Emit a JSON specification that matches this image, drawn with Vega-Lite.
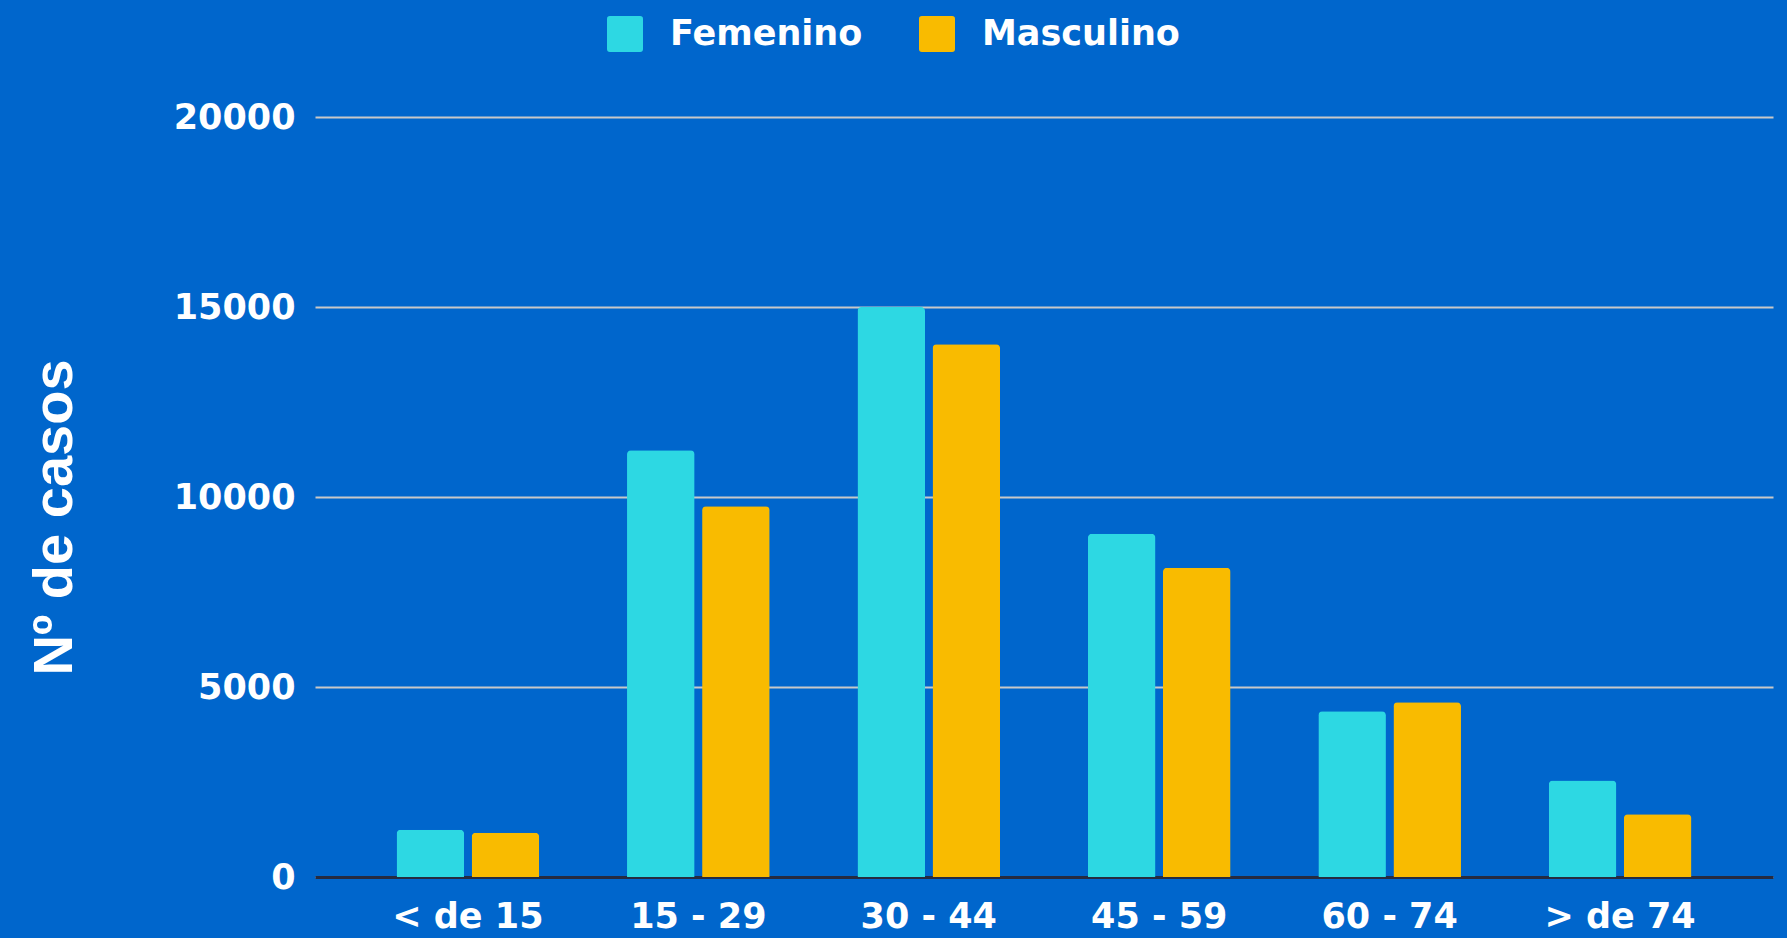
{
  "$schema": "https://vega.github.io/schema/vega-lite/v6.json",
  "autosize": {"type": "none"},
  "padding": {"left": 315, "top": 117, "right": 14, "bottom": 61},
  "width": 1458,
  "height": 760,
  "background": "#0066cc",
  "config": {
    "view": {"stroke": null},
    "font": "DejaVu Sans"
  },
  "data": {
    "values": [
      {"edad": "< de 15", "sexo": "Femenino", "casos": 1245},
      {"edad": "< de 15", "sexo": "Masculino", "casos": 1165},
      {"edad": "15 - 29", "sexo": "Femenino", "casos": 11230},
      {"edad": "15 - 29", "sexo": "Masculino", "casos": 9755},
      {"edad": "30 - 44", "sexo": "Femenino", "casos": 15000},
      {"edad": "30 - 44", "sexo": "Masculino", "casos": 14020},
      {"edad": "45 - 59", "sexo": "Femenino", "casos": 9035},
      {"edad": "45 - 59", "sexo": "Masculino", "casos": 8135},
      {"edad": "60 - 74", "sexo": "Femenino", "casos": 4360},
      {"edad": "60 - 74", "sexo": "Masculino", "casos": 4600},
      {"edad": "> de 74", "sexo": "Femenino", "casos": 2540},
      {"edad": "> de 74", "sexo": "Masculino", "casos": 1650}
    ]
  },
  "mark": {"type": "bar", "cornerRadiusTopLeft": 4, "cornerRadiusTopRight": 4},
  "encoding": {
    "x": {
      "field": "edad",
      "type": "nominal",
      "sort": ["< de 15", "15 - 29", "30 - 44", "45 - 59", "60 - 74", "> de 74"],
      "scale": {"paddingInner": 0.381, "paddingOuter": 0.354},
      "axis": {
        "title": null,
        "labelAngle": 0,
        "labelFont": "DejaVu Sans",
        "labelFontWeight": "bold",
        "labelFontSize": 35,
        "labelColor": "#ffffff",
        "labelPadding": 22,
        "ticks": false,
        "domain": true,
        "domainColor": "#262b40",
        "domainWidth": 3,
        "grid": false
      }
    },
    "xOffset": {
      "field": "sexo",
      "type": "nominal",
      "scale": {"paddingInner": 0.1, "paddingOuter": 0}
    },
    "y": {
      "field": "casos",
      "type": "quantitative",
      "scale": {"domain": [0, 20000], "nice": false},
      "axis": {
        "values": [0, 5000, 10000, 15000, 20000],
        "title": "Nº de casos",
        "titleFont": "Liberation Sans",
        "titleFontSize": 56,
        "titleFontWeight": "bold",
        "titleColor": "#ffffff",
        "titleAngle": -90,
        "titleAlign": "center",
        "titleBaseline": "alphabetic",
        "titleX": -244,
        "titleY": 400,
        "labelFont": "DejaVu Sans",
        "labelFontWeight": "bold",
        "labelFontSize": 35,
        "labelColor": "#ffffff",
        "labelPadding": 20,
        "ticks": false,
        "domain": false,
        "grid": true,
        "gridColor": "#c8c8c8",
        "gridWidth": 2,
        "format": "d"
      }
    },
    "color": {
      "field": "sexo",
      "type": "nominal",
      "scale": {"domain": ["Femenino", "Masculino"], "range": ["#2dd8e3", "#f9bb00"]},
      "legend": {
        "title": null,
        "orient": "none",
        "direction": "horizontal",
        "legendX": 292,
        "legendY": -101,
        "padding": 0,
        "symbolType": "M-0.84,-1H0.84Q1,-1 1,-0.84V0.84Q1,1 0.84,1H-0.84Q-1,1 -1,0.84V-0.84Q-1,-1 -0.84,-1Z",
        "symbolSize": 1296,
        "symbolStrokeWidth": 0,
        "symbolOpacity": 1,
        "labelFont": "DejaVu Sans",
        "labelFontWeight": "bold",
        "labelFontSize": 35,
        "labelColor": "#ffffff",
        "labelOffset": 27,
        "labelLimit": 400,
        "columnPadding": 56
      }
    }
  }
}
